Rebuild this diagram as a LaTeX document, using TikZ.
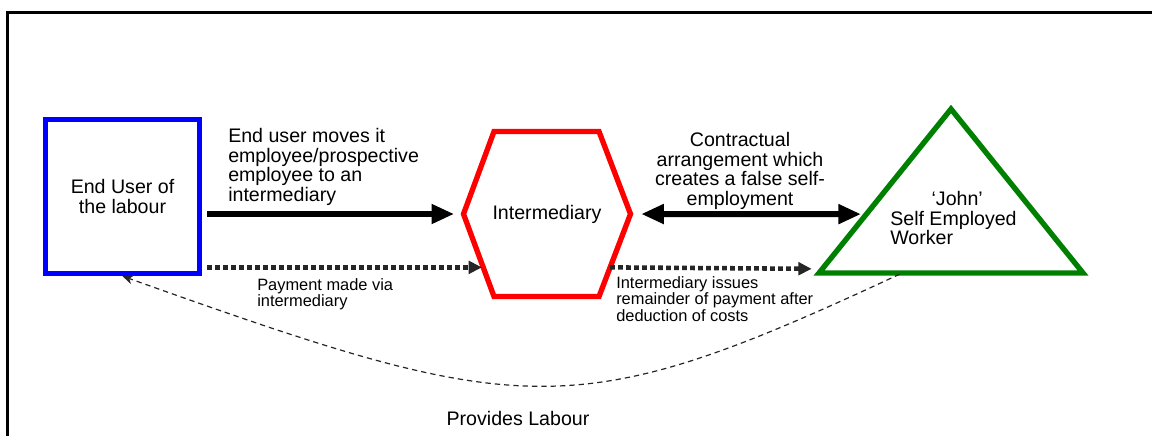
\documentclass[tikz,border=0pt]{standalone}
\usepackage{fontspec}
\setmainfont{Liberation Sans}
\usetikzlibrary{arrows.meta,calc}
\newcommand{\bigtxt}{\fontsize{14.7pt}{14.7pt}\selectfont}
\newcommand{\smalltxt}{\fontsize{12.3pt}{12.4pt}\selectfont}
\begin{document}
\begin{tikzpicture}[x=0.75pt,y=-0.75pt,
  shapeline/.style={line width=4pt, line join=miter},
  bigarrow/.style={line width=4.5pt, -{Triangle[length=17pt,width=14pt]}},
  payarrow/.style={black!85, line width=3.4pt, dash pattern=on 3.6pt off 2.4pt, -{Triangle[length=10pt,width=9.5pt]}},
  labourarrow/.style={black!85, line width=0.9pt, dash pattern=on 4pt off 3pt, -{Stealth[length=8pt,width=7pt]}},
  lbl/.style={inner sep=0pt, align=left, anchor=north west}]
\useasboundingbox (0,0) rectangle (1152,436);
\draw[line width=2.25pt] (7,436) -- (7,12.5) -- (1152,12.5);
% end user
\node[draw=blue, shapeline, minimum size=115.5pt, align=center, font=\bigtxt] (user) at (122.5,196.5) {End User of\\the labour};
% intermediary
\coordinate (hexW) at (463.5,214);
\coordinate (hexNW) at (494,131.5);
\coordinate (hexNE) at (599,131.5);
\coordinate (hexE) at (630.5,214);
\coordinate (hexSE) at (599,296.5);
\coordinate (hexSW) at (494,296.5);
\draw[red, shapeline] (hexW) -- (hexNW) -- (hexNE) -- (hexE) -- (hexSE) -- (hexSW) -- cycle;
\node[font=\bigtxt] (inter) at (547,214) {Intermediary};
% worker
\coordinate (triT) at (951,109);
\coordinate (triL) at (819,273);
\coordinate (triR) at (1083,273);
\draw[green!50!black, shapeline] (triT) -- (triR) -- (triL) -- cycle;
\node[lbl, font=\bigtxt] (john) at (890,191) {\hspace*{31pt}‘John’\\Self Employed\\Worker};
% points on the borders
\coordinate (hexDotL) at ($(hexW)!0.647!(hexSW)$);
\coordinate (hexDotR) at ($(hexE)!0.647!(hexSE)$);
\coordinate (triMid) at ($(triL)!0.359!(triT)$);
\coordinate (triDot) at ($(triL)!0.025!(triT)$);
\coordinate (triFoot) at ($(triL)!0.315!(triR)$);
% connectors
\draw[bigarrow, shorten <=3.5pt, shorten >=7pt] (user.east |- hexW) -- (hexW);
\draw[bigarrow, {Triangle[length=17pt,width=14pt]}-{Triangle[length=17pt,width=14pt]}, shorten <=8pt, shorten >=4pt] (hexE) -- (triMid);
\draw[payarrow, shorten <=3.5pt, shorten >=1pt] (user.east |- hexDotL) -- (hexDotL);
\draw[payarrow, shorten >=8pt] (hexDotR) -- (triDot);
\draw[labourarrow, shorten <=2pt] (triFoot) .. controls (572,427) and (524,419) .. (user.south);
% labels
\node[lbl, font=\bigtxt] (movelbl) at (228,128) {End user moves it\\employee/prospective\\employee to an\\intermediary};
\node[lbl, align=center, anchor=north, font=\bigtxt] (contractlbl) at (740,132) {Contractual\\arrangement which\\creates a false self-\\employment};
\node[lbl, font=\smalltxt] (paylbl) at (257,278) {Payment made via\\intermediary};
\node[lbl, font=\smalltxt] (issuelbl) at (616,276) {Intermediary issues\\remainder of payment after\\deduction of costs};
\node[font=\bigtxt, anchor=base] (providelbl) at (518,425) {Provides Labour};
\end{tikzpicture}
\end{document}
